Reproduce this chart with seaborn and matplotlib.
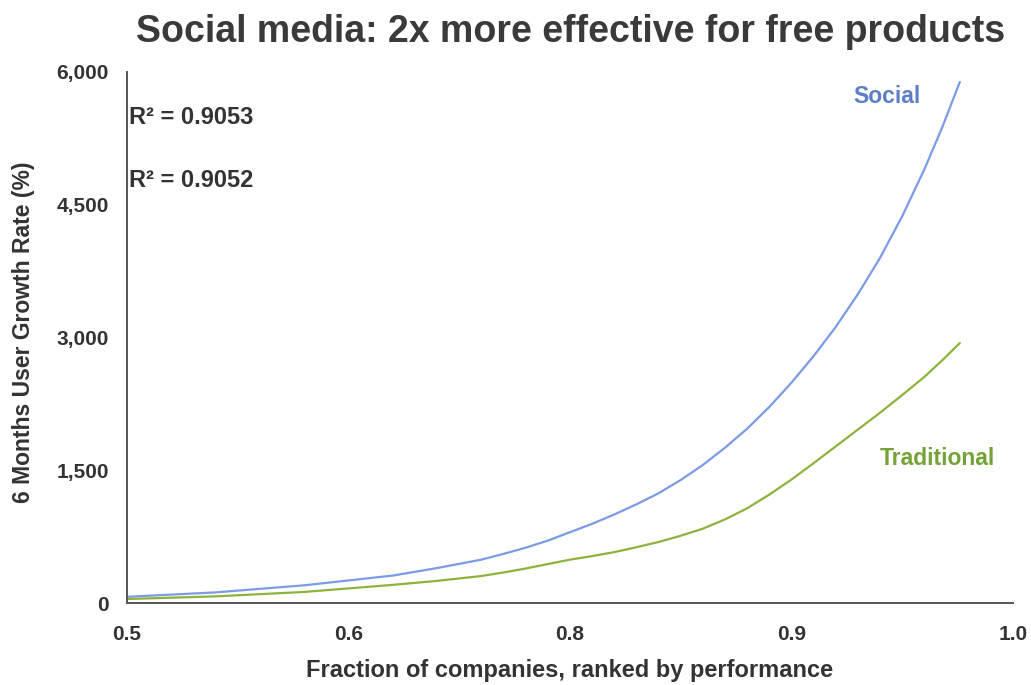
import matplotlib
matplotlib.use("Agg")
import matplotlib.pyplot as plt
import matplotlib.ticker as mticker
import seaborn as sns
import pandas as pd

# Fraction of companies (ranked by performance)
fraction = [0.50, 0.55, 0.60, 0.65, 0.675, 0.70, 0.7125, 0.725, 0.7375,
            0.75, 0.7625, 0.775, 0.7875, 0.80, 0.8125, 0.825, 0.8375,
            0.85, 0.8625, 0.875, 0.8875, 0.90, 0.9125, 0.925, 0.9375,
            0.95, 0.96, 0.97]
# 6-month user growth rate (%) per channel
social = [70, 120, 200, 310, 395, 490, 555, 625, 705,
          800, 895, 1000, 1115, 1240, 1390, 1560, 1755,
          1970, 2215, 2490, 2790, 3120, 3490, 3900, 4370,
          4900, 5370, 5887]
traditional = [45, 75, 125, 205, 250, 305, 345, 390, 440,
               490, 530, 575, 630, 690, 760, 840, 945,
               1070, 1225, 1395, 1580, 1770, 1960, 2150, 2350,
               2555, 2740, 2938]

x_ticks = [0.5, 0.625, 0.75, 0.875, 1.0]
x_tick_labels = ["0.5", "0.6", "0.8", "0.9", "1.0"]
y_ticks = [0, 1500, 3000, 4500, 6000]

r2_labels = ["R\u00b2 = 0.9053", "R\u00b2 = 0.9052"]

df = pd.DataFrame({
    "fraction": fraction * 2,
    "growth": social + traditional,
    "channel": ["Social"] * len(social) + ["Traditional"] * len(traditional),
})

sns.set_style("white")
plt.rcParams["font.family"] = ["Liberation Sans", "DejaVu Sans"]

BLUE = "#7b9be6"
GREEN = "#8db33d"
BLUE_TXT = "#5b7ec6"
GREEN_TXT = "#74a236"
DARK = "#333333"

fig = plt.figure(figsize=(10.31, 6.85), dpi=100)
ax = fig.add_axes([0.1232, 0.1197, 0.8593, 0.7752])

sns.lineplot(data=df, x="fraction", y="growth", hue="channel",
             palette={"Social": BLUE, "Traditional": GREEN},
             linewidth=1.6, legend=False, ax=ax)

ax.set_xlim(0.5, 1.0)
ax.set_ylim(0, 6000)
ax.set_xticks(x_ticks)
ax.set_xticklabels(x_tick_labels)
ax.set_yticks(y_ticks)
ax.yaxis.set_major_formatter(mticker.FuncFormatter(lambda v, p: f"{int(v):,}"))
ax.tick_params(axis="both", length=0, labelsize=15, colors=DARK)
ax.tick_params(axis="x", pad=15.5)
ax.tick_params(axis="y", pad=13)
for lbl in ax.get_xticklabels() + ax.get_yticklabels():
    lbl.set_fontweight("bold")

for side in ["top", "right"]:
    ax.spines[side].set_visible(False)
for side in ["left", "bottom"]:
    ax.spines[side].set_color("#555555")
    ax.spines[side].set_linewidth(1.4)

ax.set_xlabel("Fraction of companies, ranked by performance",
              fontsize=17, fontweight="bold", color=DARK, va="center")
ax.xaxis.set_label_coords(0.499, -0.127)
ax.set_ylabel("6 Months User Growth Rate (%)",
              fontsize=16.5, fontweight="bold", color=DARK, va="center")
ax.yaxis.set_label_coords(-0.117, 0.51)

fig.text(0.553, 0.953, "Social media: 2x more effective for free products",
         ha="center", va="center", fontsize=27, fontweight="bold", color="#3a3a3a")

ax.text(0.002, 0.915, r2_labels[0], transform=ax.transAxes, ha="left", va="center",
        fontsize=17, fontweight="bold", color=DARK)
ax.text(0.002, 0.795, r2_labels[1], transform=ax.transAxes, ha="left", va="center",
        fontsize=17, fontweight="bold", color=DARK)

ax.text(0.858, 0.953, "Social", transform=ax.transAxes, ha="center", va="center",
        fontsize=16.5, fontweight="bold", color=BLUE_TXT)
ax.text(0.915, 0.272, "Traditional", transform=ax.transAxes, ha="center", va="center",
        fontsize=16.5, fontweight="bold", color=GREEN_TXT)

fig.savefig("out.png", dpi=100, facecolor="white")
